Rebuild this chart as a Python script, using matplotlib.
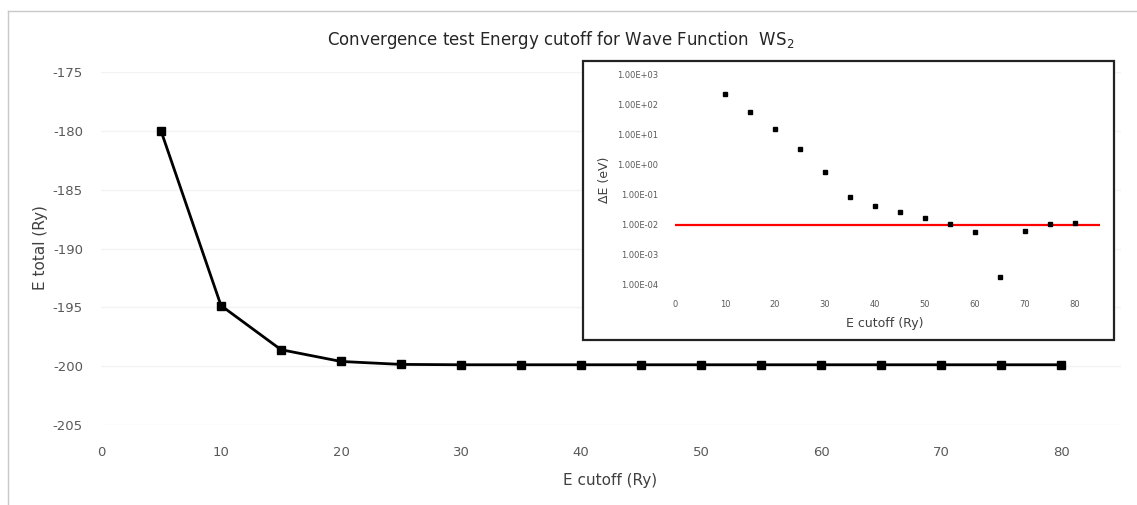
import matplotlib
matplotlib.use("Agg")
import matplotlib.pyplot as plt
from matplotlib.lines import Line2D
from matplotlib.patches import Rectangle
from matplotlib.ticker import FixedLocator, FuncFormatter

plt.rcParams["axes.unicode_minus"] = False

# ---- data ----
cutoff = [5, 10, 15, 20, 25, 30, 35, 40, 45, 50, 55, 60, 65, 70, 75, 80]
e_total = [-180.0, -194.85, -198.6, -199.6, -199.85, -199.88, -199.88, -199.88,
           -199.88, -199.88, -199.88, -199.88, -199.88, -199.88, -199.88, -199.88]

de_cutoff = [10, 15, 20, 25, 30, 35, 40, 45, 50, 55, 60, 65, 70, 75, 80]
delta_e = [211, 53, 14.5, 3.3, 0.555, 0.084, 0.041, 0.0267, 0.0164, 0.0109,
           0.0056, 0.00018, 0.0062, 0.0104, 0.0115]
threshold = 1e-2

x_ticks = [0, 10, 20, 30, 40, 50, 60, 70, 80]
y_ticks = [-205, -200, -195, -190, -185, -180, -175]
inset_y_ticks = [1e-4, 1e-3, 1e-2, 1e-1, 1e0, 1e1, 1e2, 1e3]

W, H = 1137, 505
fig = plt.figure(figsize=(W / 100, H / 100), dpi=100)
fig.patch.set_facecolor("white")

def fx(px):
    return px / W

def fy(py):
    return 1 - py / H

# outer chart border (top and left)
fig.add_artist(Line2D([fx(8), 1], [fy(10.5), fy(10.5)], color="#c8c8c8", lw=1))
fig.add_artist(Line2D([fx(8), fx(8)], [fy(10.5), 0], color="#c8c8c8", lw=1))

tick_color = "#595959"

# ---- main axes ----
ax = fig.add_axes([fx(101), fy(425), fx(1121) - fx(101), fy(72) - fy(425)])
ax.plot(cutoff, e_total, color="black", lw=2, marker="s", markersize=5.5,
        markerfacecolor="black", markeredgecolor="black", zorder=3)
ax.set_xlim(0, 85)
ax.set_ylim(-205, -175)
ax.set_xticks(x_ticks)
ax.set_yticks(y_ticks)
for s in ax.spines.values():
    s.set_visible(False)
ax.tick_params(axis="both", length=0, labelsize=9.5, labelcolor=tick_color)
ax.tick_params(axis="x", pad=15)
ax.tick_params(axis="y", pad=13)
ax.grid(axis="y", color="#f3f3f3", lw=1)
ax.set_axisbelow(True)

fig.text(fx(40), fy(248), "E total (Ry)", rotation=90, ha="center", va="center",
         fontsize=11, color="#404040")
fig.text(fx(610), fy(480), "E cutoff (Ry)", ha="center", va="center",
         fontsize=11, color="#404040")
fig.text(fx(561), fy(40), r"Convergence test Energy cutoff for Wave Function  WS$_2$",
         ha="center", va="center", fontsize=12, color="#262626")

# ---- inset frame ----
fig.add_artist(Rectangle((fx(583), fy(340)), fx(1114) - fx(583), fy(61) - fy(340),
                         transform=fig.transFigure, facecolor="white",
                         edgecolor="#222222", lw=1.6, zorder=5))

# ---- inset axes ----
ia = fig.add_axes([fx(675), fy(285), fx(1100) - fx(675), fy(74) - fy(285)], zorder=6)
ia.set_facecolor("none")
ia.set_yscale("log")
ia.set_xlim(0, 85)
ia.set_ylim(1e-4, 1e3)
ia.axhline(threshold, color="red", lw=1.6, zorder=2)
ia.plot(de_cutoff, delta_e, linestyle="none", marker="s", markersize=3.2,
        color="black", zorder=3)
ia.set_xticks(x_ticks)
ia.yaxis.set_major_locator(FixedLocator(inset_y_ticks))
ia.yaxis.set_minor_locator(FixedLocator([]))

def sci(v, pos):
    s = "%.2E" % v
    mant, ex = s.split("E")
    sign = ex[0]
    return "%sE%s%02d" % (mant, sign, abs(int(ex)))

ia.yaxis.set_major_formatter(FuncFormatter(sci))
for s in ia.spines.values():
    s.set_visible(False)
ia.tick_params(axis="both", which="both", length=0, labelsize=6, labelcolor=tick_color)
ia.tick_params(axis="x", pad=11)
ia.tick_params(axis="y", pad=12)

fig.text(fx(604), fy(180), "ΔE (eV)", rotation=90, ha="center", va="center",
         fontsize=9, color="#404040", zorder=7)
fig.text(fx(885), fy(323), "E cutoff (Ry)", ha="center", va="center",
         fontsize=9, color="#404040", zorder=7)

fig.savefig("out.png", dpi=100, facecolor="white")
